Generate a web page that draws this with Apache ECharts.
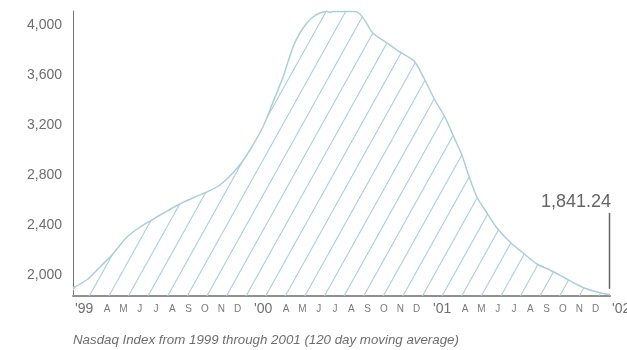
<!DOCTYPE html>
<html>
<head>
<meta charset="utf-8">
<script src="https://cdn.jsdelivr.net/npm/echarts@6/dist/echarts.min.js"></script>
<style>
  html, body { margin: 0; padding: 0; background: #ffffff; }
  #chart { width: 627px; height: 350px; }
</style>
</head>
<body>
<div id="chart"></div>
<script>
// Nasdaq 120-day moving average, Jan 1999 – Dec 2001.
// Position is in months from 1 Jan 1999.
const monthPos = [
  0, 1.0, 1.81, 2.48, 3.0, 3.62, 4.4, 5.29, 6.2, 7.17, 8.1, 8.98, 9.85, 10.72,
  11.3, 11.86, 12.73, 13.4, 14.08, 14.75, 15.21, 15.68, 16.09, 16.55, 17.02,
  17.2, 17.43, 18.2, 18.9, 19.24, 19.7, 20.1, 21.05, 21.92, 22.4, 22.92, 23.59,
  24.26, 24.93, 25.47, 26.07, 26.47, 27.08, 27.75, 28.42, 29.29, 30.09, 31.1,
  31.97, 32.98, 34.12, 35.12, 36
];
const indexValues = [
  1896, 1968, 2064, 2144, 2216, 2304, 2376, 2440, 2504, 2568, 2620, 2664, 2720, 2816,
  2900, 3000, 3184, 3380, 3584, 3824, 3936, 4016, 4064, 4096, 4110,
  4100, 4108, 4108, 4108, 4088, 4010, 3936, 3856, 3784, 3750, 3704, 3560,
  3400, 3264, 3120, 2960, 2816, 2624, 2496, 2376, 2264, 2184, 2088,
  2040, 1976, 1904, 1864, 1841.24
];
const yTickValues = [2000, 2400, 2800, 3200, 3600, 4000];
const yearLabels = ["'99", "'00", "'01", "'02"];
const monthInitials = ['A', 'M', 'J', 'J', 'A', 'S', 'O', 'N', 'D'];
const caption = 'Nasdaq Index from 1999 through 2001 (120 day moving average)';

const FONT = '"Liberation Sans", Arial, sans-serif';
const LINE_BLUE = '#a9d0da';

// Repeating tile of diagonal hatch lines used to fill the area.
function hatchTile() {
  const w = 98, h = 176;
  const c = document.createElement('canvas');
  c.width = w; c.height = h;
  const ctx = c.getContext('2d');
  ctx.strokeStyle = LINE_BLUE;
  ctx.lineWidth = 1.1;
  for (let k = -1; k <= 10; k++) {
    const x0 = 18.9 + k * 19.6;
    ctx.beginPath();
    ctx.moveTo(x0, 0);
    ctx.lineTo(x0 - w, h);
    ctx.stroke();
  }
  return c;
}

const chart = echarts.init(document.getElementById('chart'), null, { renderer: 'canvas' });

const seriesData = monthPos.map((m, i) => [m, indexValues[i]]);

chart.setOption({
  animation: false,
  backgroundColor: '#ffffff',
  title: {
    text: caption,
    left: 73,
    top: 334,
    padding: 0,
    textStyle: { fontFamily: FONT, fontStyle: 'italic', fontWeight: 'normal', fontSize: 13.3, color: '#6e6e6e' }
  },
  grid: { left: 73, right: 17, top: 11, bottom: 54, containLabel: false, outerBoundsMode: 'none' },
  xAxis: {
    type: 'value',
    min: 0,
    max: 36,
    interval: 12,
    axisLine: { show: true, lineStyle: { color: '#8f8f8f', width: 2 } },
    axisTick: { show: false },
    splitLine: { show: false },
    axisLabel: {
      showMinLabel: true,
      showMaxLabel: true,
      align: 'left',
      margin: 6,
      padding: [0, 0, 0, 2],
      formatter: function (v) {
        const yi = Math.round(v / 12);
        let s = '{y|' + yearLabels[yi] + '}';
        if (yi < 3) s += monthInitials.map(l => '{m|' + l + '}').join('');
        return s;
      },
      rich: {
        y: { fontFamily: FONT, fontSize: 14, color: '#6e6e6e', width: 24, align: 'left' },
        m: { fontFamily: FONT, fontSize: 10, color: '#7a7a7a', width: 16.3, align: 'center' }
      }
    }
  },
  yAxis: {
    type: 'value',
    min: 1832,
    max: 4112,
    axisLine: { show: true, lineStyle: { color: '#777777', width: 1 } },
    axisTick: { show: false },
    splitLine: { show: false },
    axisLabel: {
      customValues: yTickValues,
      margin: 11,
      fontFamily: FONT,
      fontSize: 14,
      color: '#6e6e6e',
      formatter: v => v.toLocaleString('en-US')
    }
  },
  series: [{
    type: 'line',
    data: seriesData,
    showSymbol: false,
    smooth: 0.3,
    lineStyle: { color: LINE_BLUE, width: 1.5 },
    areaStyle: { color: { image: hatchTile(), repeat: 'repeat' }, opacity: 1 }
  }]
});

// Closing-value callout on the last point.
const lastIdx = seriesData.length - 1;
const endPt = chart.convertToPixel({ seriesIndex: 0 }, seriesData[lastIdx]);
const lastText = indexValues[lastIdx].toLocaleString('en-US', { minimumFractionDigits: 2, maximumFractionDigits: 2 });
chart.setOption({
  graphic: [
    {
      type: 'line',
      shape: { x1: endPt[0] - 0.5, y1: endPt[1] - 6, x2: endPt[0] - 0.5, y2: endPt[1] - 82 },
      style: { stroke: '#666666', lineWidth: 1.5 },
      silent: true
    },
    {
      type: 'text',
      x: endPt[0] + 1,
      y: endPt[1] - 84,
      style: {
        text: lastText,
        font: '18px ' + FONT,
        fill: '#666666',
        textAlign: 'right',
        textVerticalAlign: 'bottom'
      },
      silent: true
    }
  ]
});
</script>
</body>
</html>
